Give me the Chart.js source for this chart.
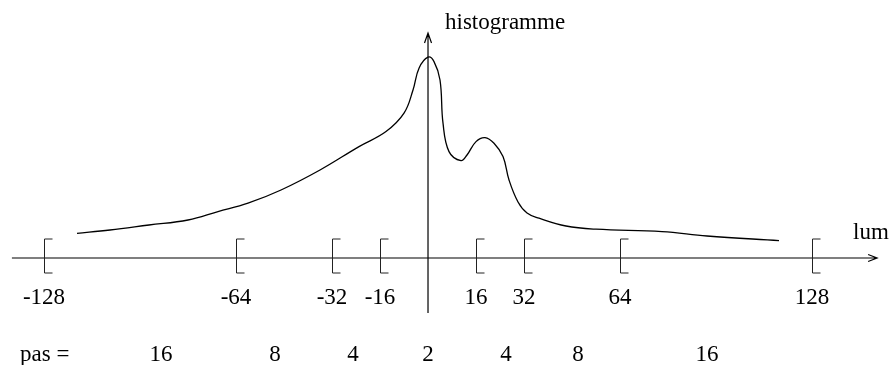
<!DOCTYPE html>
<html>
<head>
<meta charset="utf-8">
<script src="https://cdn.jsdelivr.net/npm/chart.js@4"></script>
<style>
  body { margin: 0; background: #fff; }
  #wrap { width: 891px; height: 365px; }
</style>
</head>
<body>
<div id="wrap"><canvas id="histo" width="891" height="365"></canvas></div>
<script>
// courbe de l'histogramme (lum, hauteur)
var lum = [-117, -106, -93, -80, -70, -60, -49, -36, -23, -14, -8, -5, -3, 0, 2, 4, 5, 7, 11, 13, 16, 19, 22, 25, 27, 30, 33, 37, 46, 56, 78, 93, 117];
var hauteur = [12.3, 14, 16.5, 19, 23.2, 27.4, 34, 44, 55.7, 63.2, 72.4, 84, 94.9, 100.4, 98.2, 89, 67.4, 53.2, 48.7, 51.5, 58.2, 60.2, 57.4, 50.7, 39, 28, 22.5, 19.9, 16, 14.4, 13.2, 11, 8.7];

// graduations de l'axe lum
var bornes = [-128, -64, -32, -16, 16, 32, 64, 128];
var bornesTxt = ["-128", "-64", "-32", "-16", "16", "32", "64", "128"];

// pas entre les bornes
var pas = ["16", "8", "4", "2", "4", "8", "16"];
var pasLum = [-89, -51, -25, 0, 26, 50, 93];

var police = '23px "Liberation Serif", "Times New Roman", serif';

var axes = {
    id: 'axes',
    afterDraw: function (chart) {
        var c = chart.ctx;
        var sx = chart.scales.x;
        var sy = chart.scales.y;
        var y0 = sy.getPixelForValue(0);
        var x0 = sx.getPixelForValue(0);
        c.save();
        c.strokeStyle = '#000';
        c.fillStyle = '#000';
        c.lineWidth = 1.2;

        // axe horizontal + fleche
        var xa = sx.getPixelForValue(-138.7), xb = sx.getPixelForValue(149.7);
        c.beginPath();
        c.moveTo(xa, y0); c.lineTo(xb, y0);
        c.moveTo(xb - 9, y0 - 3.5); c.lineTo(xb, y0); c.lineTo(xb - 9, y0 + 3.5);
        c.stroke();

        // axe vertical + fleche
        var ya = sy.getPixelForValue(-27.5), yb = sy.getPixelForValue(112.5);
        c.beginPath();
        c.moveTo(x0, ya); c.lineTo(x0, yb);
        c.moveTo(x0 - 3.5, yb + 10); c.lineTo(x0, yb); c.lineTo(x0 + 3.5, yb + 10);
        c.stroke();

        // crochets
        c.lineWidth = 1;
        c.strokeStyle = '#222';
        bornes.forEach(function (b) {
            var px = Math.round(sx.getPixelForValue(b)) + 0.5;
            c.beginPath();
            c.moveTo(px + 8, y0 - 19); c.lineTo(px, y0 - 19);
            c.lineTo(px, y0 + 15); c.lineTo(px + 8, y0 + 15);
            c.stroke();
        });

        c.font = police;
        c.textBaseline = 'middle';
        c.textAlign = 'center';
        bornes.forEach(function (b, i) {
            c.fillText(bornesTxt[i], sx.getPixelForValue(b), y0 + 40);
        });
        pas.forEach(function (p, i) {
            c.fillText(p, sx.getPixelForValue(pasLum[i]), y0 + 97);
        });
        c.textAlign = 'left';
        c.fillText('pas =', 20, y0 + 97);
        c.fillText('lum', 853, y0 - 25);
        c.fillText('histogramme', 445, 23);
        c.restore();
    }
};

var ct = document.getElementById('histo');
var grafico = new Chart(ct, {
    type: 'scatter',
    data: {
        datasets: [{
            label: 'histogramme',
            data: lum.map(function (v, i) { return { x: v, y: hauteur[i] }; }),
            showLine: true,
            borderColor: '#000',
            borderWidth: 1.3,
            pointRadius: 0,
            tension: 0.4,
            fill: false
        }]
    },
    options: {
        responsive: false,
        animation: false,
        layout: { padding: 0 },
        plugins: { legend: { display: false }, tooltip: { enabled: false } },
        scales: {
            x: { type: 'linear', min: -142.67, max: 154.33, display: false },
            y: { type: 'linear', min: -53.5, max: 129, display: false }
        }
    },
    plugins: [axes]
});
</script>
</body>
</html>
